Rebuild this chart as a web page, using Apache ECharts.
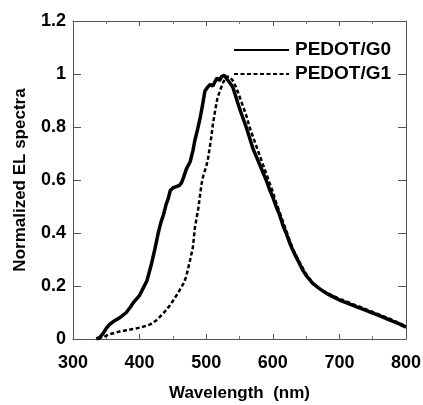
<!DOCTYPE html>
<html>
<head>
<meta charset="utf-8">
<script src="https://cdn.jsdelivr.net/npm/echarts@6/dist/echarts.min.js"></script>
<style>
html, body { margin: 0; padding: 0; background: #fff; }
#chart { width: 423px; height: 405px; }
</style>
</head>
<body>
<div id="chart"></div>
<script>
// PEDOT/G0 (solid)
var g0Wave = [335, 340, 345, 350, 355, 360, 370, 380, 386, 390, 400, 405, 411, 418, 423, 428, 432, 436, 440, 443,
	446, 450, 455, 460, 463, 466, 470, 476, 480, 483, 487, 491, 495, 498, 502, 506, 510, 513, 516, 520,
	523, 527, 530, 533, 536, 540, 545, 550, 555, 560, 565, 570, 575, 580, 585, 590, 595, 600, 605, 610,
	615, 620, 625, 630, 635, 640, 645, 650, 655, 660, 670, 680, 690, 700, 710, 725, 740, 750, 760, 775,
	790, 800];
var g0Val = [0, 0.005, 0.02, 0.04, 0.055, 0.065, 0.08, 0.10, 0.12, 0.135, 0.165, 0.19, 0.22, 0.285, 0.34, 0.40, 0.44, 0.47, 0.51, 0.53,
	0.56, 0.57, 0.575, 0.58, 0.59, 0.61, 0.64, 0.67, 0.71, 0.75, 0.79, 0.835, 0.89, 0.935, 0.95, 0.96, 0.955, 0.97, 0.985, 0.975,
	0.99, 0.995, 0.985, 0.98, 0.965, 0.95, 0.91, 0.87, 0.835, 0.80, 0.76, 0.72, 0.69, 0.66, 0.63, 0.60, 0.565, 0.535, 0.50, 0.47,
	0.43, 0.40, 0.365, 0.335, 0.31, 0.285, 0.26, 0.24, 0.225, 0.21, 0.19, 0.173, 0.16, 0.147, 0.137, 0.122, 0.108, 0.098, 0.088, 0.072,
	0.057, 0.045];

// PEDOT/G1 (dashed)
var g1Wave = [338, 342, 348, 355, 361, 370, 380, 386, 395, 405, 416, 425, 436, 445, 451, 458, 466, 470, 476, 480,
	483, 488, 493, 496, 500, 503, 507, 510, 514, 517, 521, 525, 530, 535, 540, 545, 550, 555, 560, 565,
	570, 575, 580, 585, 590, 595, 600, 605, 610, 615, 620, 625, 630, 640, 650, 660, 670, 680, 700, 725,
	750, 775, 800];
var g1Val = [0, 0.005, 0.01, 0.018, 0.022, 0.028, 0.033, 0.036, 0.04, 0.046, 0.055, 0.07, 0.098, 0.125, 0.147, 0.175, 0.21, 0.235, 0.30, 0.345,
	0.42, 0.49, 0.585, 0.62, 0.65, 0.685, 0.75, 0.81, 0.87, 0.91, 0.94, 0.965, 0.99, 0.99, 0.975, 0.95, 0.915, 0.88, 0.845, 0.80,
	0.765, 0.73, 0.695, 0.66, 0.625, 0.59, 0.555, 0.515, 0.48, 0.445, 0.41, 0.375, 0.34, 0.29, 0.245, 0.21, 0.19, 0.175, 0.152, 0.127,
	0.102, 0.077, 0.048];

var seriesNames = ['PEDOT/G0', 'PEDOT/G1'];

function pairs(xs, ys) {
	var out = [];
	for (var i = 0; i < xs.length; i++) {
		out.push([xs[i], ys[i]]);
	}
	return out;
}

var font = 'Liberation Sans, Arial, sans-serif';
var axisLine = { show: true, onZero: false, lineStyle: { color: '#555', width: 1 } };

var option = {
	animation: false,
	backgroundColor: '#fff',
	grid: { left: 73, right: 17, top: 21, bottom: 66, outerBoundsMode: 'none' },
	legend: {
		data: seriesNames,
		orient: 'vertical',
		left: 228,
		top: 35,
		itemWidth: 55,
		itemHeight: 14,
		itemGap: 4,
		itemStyle: { opacity: 0 },
		textStyle: { fontFamily: font, fontWeight: 'bold', fontSize: 19, color: '#000', lineHeight: 20, padding: [0, 0, 0, 1] }
	},
	xAxis: [{
		type: 'value',
		min: 300,
		max: 800,
		interval: 100,
		name: 'Wavelength  (nm)',
		nameLocation: 'middle',
		nameGap: 46,
		nameTextStyle: { fontFamily: font, fontWeight: 'bold', fontSize: 17, color: '#000' },
		axisLine: axisLine,
		axisTick: { inside: true, length: 5, lineStyle: { color: '#555' } },
		minorTick: { show: true, splitNumber: 2, length: 3, lineStyle: { color: '#777' } },
		splitLine: { show: false },
		axisLabel: { fontFamily: font, fontWeight: 'bold', fontSize: 18, color: '#000', margin: 15 }
	}, {
		type: 'value',
		position: 'top',
		min: 300,
		max: 800,
		interval: 100,
		axisLine: axisLine,
		axisTick: { inside: true, length: 5, lineStyle: { color: '#555' } },
		minorTick: { show: true, splitNumber: 2, length: 3, lineStyle: { color: '#777' } },
		splitLine: { show: false },
		axisLabel: { show: false }
	}],
	yAxis: [{
		type: 'value',
		min: 0,
		max: 1.2,
		interval: 0.2,
		name: 'Normalized EL spectra',
		nameLocation: 'middle',
		nameGap: 44,
		nameTextStyle: { fontFamily: font, fontWeight: 'bold', fontSize: 17, color: '#000' },
		axisLine: axisLine,
		axisTick: { inside: true, length: 8, lineStyle: { color: '#555' } },
		splitLine: { show: false },
		axisLabel: {
			fontFamily: font, fontWeight: 'bold', fontSize: 18, color: '#000', margin: 7,
			formatter: function(v) { return String(Math.round(v * 10) / 10); }
		}
	}, {
		type: 'value',
		position: 'right',
		min: 0,
		max: 1.2,
		interval: 0.2,
		axisLine: axisLine,
		axisTick: { inside: true, length: 8, lineStyle: { color: '#555' } },
		splitLine: { show: false },
		axisLabel: { show: false }
	}],
	series: [{
		name: seriesNames[0],
		type: 'line',
		symbol: 'none',
		data: pairs(g0Wave, g0Val),
		lineStyle: { color: '#000', width: 3.5 },
		itemStyle: { color: '#000' },
		z: 3
	}, {
		name: seriesNames[1],
		type: 'line',
		symbol: 'none',
		data: pairs(g1Wave, g1Val),
		lineStyle: { color: '#000', width: 2.5, type: [4, 2.5] },
		itemStyle: { color: '#000' },
		z: 2
	}]
};

var chart = echarts.init(document.getElementById('chart'));
chart.setOption(option);
</script>
</body>
</html>
